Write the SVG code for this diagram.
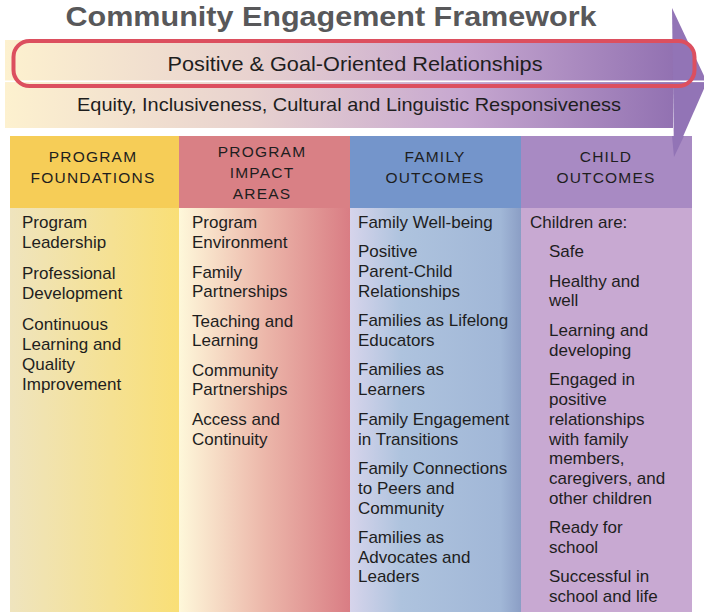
<svg xmlns="http://www.w3.org/2000/svg" width="704" height="612" viewBox="0 0 704 612">
  <defs>
    <linearGradient id="bandGrad" x1="5" y1="0" x2="706" y2="0" gradientUnits="userSpaceOnUse">
      <stop offset="0" stop-color="#fdf1cf"/>
      <stop offset="0.35" stop-color="#e8d2cf"/>
      <stop offset="0.65" stop-color="#c7a8d0"/>
      <stop offset="1" stop-color="#8a69ad"/>
    </linearGradient>
    <linearGradient id="col1Grad" x1="0" y1="0" x2="1" y2="0">
      <stop offset="0" stop-color="#efe4be"/>
      <stop offset="1" stop-color="#f9df76"/>
    </linearGradient>
    <linearGradient id="col2Grad" x1="0" y1="0" x2="1" y2="0">
      <stop offset="0" stop-color="#fef8da"/>
      <stop offset="0.5" stop-color="#ecb7aa"/>
      <stop offset="1" stop-color="#d97d84"/>
    </linearGradient>
    <linearGradient id="col3Grad" x1="0" y1="0" x2="1" y2="0">
      <stop offset="0" stop-color="#d6d4eb"/>
      <stop offset="0.3" stop-color="#aec3de"/>
      <stop offset="0.88" stop-color="#a1b7d7"/>
      <stop offset="1" stop-color="#8b9ec5"/>
    </linearGradient>
    <style>
      .title { font-family: "Liberation Sans", Arial, sans-serif; font-weight: bold; font-size: 28px; fill: #58585a; }
      .band { font-family: "Liberation Sans", Arial, sans-serif; fill: #1e1e1e; }
      .head { font-family: "Liberation Sans", Arial, sans-serif; font-size: 15.5px; letter-spacing: 1.2px; fill: #1e1e1e; text-anchor: middle; }
      .item { font-family: "Liberation Sans", Arial, sans-serif; font-size: 17px; fill: #1e1e1e; }
    </style>
  </defs>

  <!-- Title -->
  <text class="title" x="331" y="26" text-anchor="middle" textLength="531" lengthAdjust="spacingAndGlyphs">Community Engagement Framework</text>

  <!-- Framework arrow carrying the two cross-cutting bands -->
  <g id="arrow">
    <rect x="5" y="40" width="668" height="88" fill="url(#bandGrad)"/>
    <polygon points="672,8 707,82 674,157" fill="#9274b6"/>
    <rect x="5" y="80.5" width="699" height="1.6" fill="#ffffff"/>
  </g>

  <g id="band-relationships">
    <rect x="13.5" y="41" width="681" height="45" rx="16" ry="16" fill="none" stroke="#dc4f5f" stroke-width="4"/>
    <text class="band" x="355" y="71" font-size="21" text-anchor="middle" textLength="375" lengthAdjust="spacingAndGlyphs">Positive &amp; Goal-Oriented Relationships</text>
  </g>

  <g id="band-equity">
    <text class="band" x="349" y="111" font-size="19" text-anchor="middle" textLength="544" lengthAdjust="spacingAndGlyphs">Equity, Inclusiveness, Cultural and Linguistic Responsiveness</text>
  </g>

  <!-- Column 1: Program Foundations -->
  <g id="col-program-foundations">
    <rect x="10" y="136" width="169" height="72" fill="#f6cd57"/>
    <rect x="10" y="208" width="169" height="404" fill="url(#col1Grad)"/>
    <text class="head" x="93" y="162">PROGRAM</text>
    <text class="head" x="93" y="183">FOUNDATIONS</text>
    <text class="item" x="22" y="228">Program</text>
    <text class="item" x="22" y="248">Leadership</text>
    <text class="item" x="22" y="279">Professional</text>
    <text class="item" x="22" y="299">Development</text>
    <text class="item" x="22" y="330">Continuous</text>
    <text class="item" x="22" y="350">Learning and</text>
    <text class="item" x="22" y="370">Quality</text>
    <text class="item" x="22" y="390">Improvement</text>
  </g>

  <!-- Column 2: Program Impact Areas -->
  <g id="col-program-impact-areas">
    <rect x="179" y="136" width="171" height="72" fill="#d98085"/>
    <rect x="179" y="208" width="171" height="404" fill="url(#col2Grad)"/>
    <text class="head" x="262" y="157">PROGRAM</text>
    <text class="head" x="262" y="178">IMPACT</text>
    <text class="head" x="262" y="199">AREAS</text>
    <text class="item" x="192" y="228">Program</text>
    <text class="item" x="192" y="248">Environment</text>
    <text class="item" x="192" y="278">Family</text>
    <text class="item" x="192" y="297">Partnerships</text>
    <text class="item" x="192" y="327">Teaching and</text>
    <text class="item" x="192" y="346">Learning</text>
    <text class="item" x="192" y="376">Community</text>
    <text class="item" x="192" y="395">Partnerships</text>
    <text class="item" x="192" y="425">Access and</text>
    <text class="item" x="192" y="445">Continuity</text>
  </g>

  <!-- Column 3: Family Outcomes -->
  <g id="col-family-outcomes">
    <rect x="350" y="136" width="171" height="72" fill="#7495cb"/>
    <rect x="350" y="208" width="171" height="404" fill="url(#col3Grad)"/>
    <text class="head" x="435" y="162">FAMILY</text>
    <text class="head" x="435" y="183">OUTCOMES</text>
    <text class="item" x="358" y="228">Family Well-being</text>
    <text class="item" x="358" y="257">Positive</text>
    <text class="item" x="358" y="277">Parent-Child</text>
    <text class="item" x="358" y="297">Relationships</text>
    <text class="item" x="358" y="326">Families as Lifelong</text>
    <text class="item" x="358" y="346">Educators</text>
    <text class="item" x="358" y="375">Families as</text>
    <text class="item" x="358" y="395">Learners</text>
    <text class="item" x="358" y="425">Family Engagement</text>
    <text class="item" x="358" y="445">in Transitions</text>
    <text class="item" x="358" y="474">Family Connections</text>
    <text class="item" x="358" y="494">to Peers and</text>
    <text class="item" x="358" y="514">Community</text>
    <text class="item" x="358" y="543">Families as</text>
    <text class="item" x="358" y="563">Advocates and</text>
    <text class="item" x="358" y="582">Leaders</text>
  </g>

  <!-- Column 4: Child Outcomes -->
  <g id="col-child-outcomes">
    <rect x="521" y="136" width="171" height="72" fill="#a88ac3"/>
    <rect x="521" y="208" width="171" height="404" fill="#c8a9d2"/>
    <text class="head" x="606" y="162">CHILD</text>
    <text class="head" x="606" y="183">OUTCOMES</text>
    <text class="item" x="530" y="228">Children are:</text>
    <text class="item" x="549" y="257">Safe</text>
    <text class="item" x="549" y="287">Healthy and</text>
    <text class="item" x="549" y="306">well</text>
    <text class="item" x="549" y="336">Learning and</text>
    <text class="item" x="549" y="356">developing</text>
    <text class="item" x="549" y="385">Engaged in</text>
    <text class="item" x="549" y="405">positive</text>
    <text class="item" x="549" y="425">relationships</text>
    <text class="item" x="549" y="445">with family</text>
    <text class="item" x="549" y="464">members,</text>
    <text class="item" x="549" y="484">caregivers, and</text>
    <text class="item" x="549" y="504">other children</text>
    <text class="item" x="549" y="533">Ready for</text>
    <text class="item" x="549" y="553">school</text>
    <text class="item" x="549" y="582">Successful in</text>
    <text class="item" x="549" y="602">school and life</text>
  </g>

  <!-- Arrow tip overlaps the top of the last header -->
  <g id="arrow-tip">
    <polygon points="672,136 684,136 674,157" fill="#9274b6"/>
  </g>
</svg>
